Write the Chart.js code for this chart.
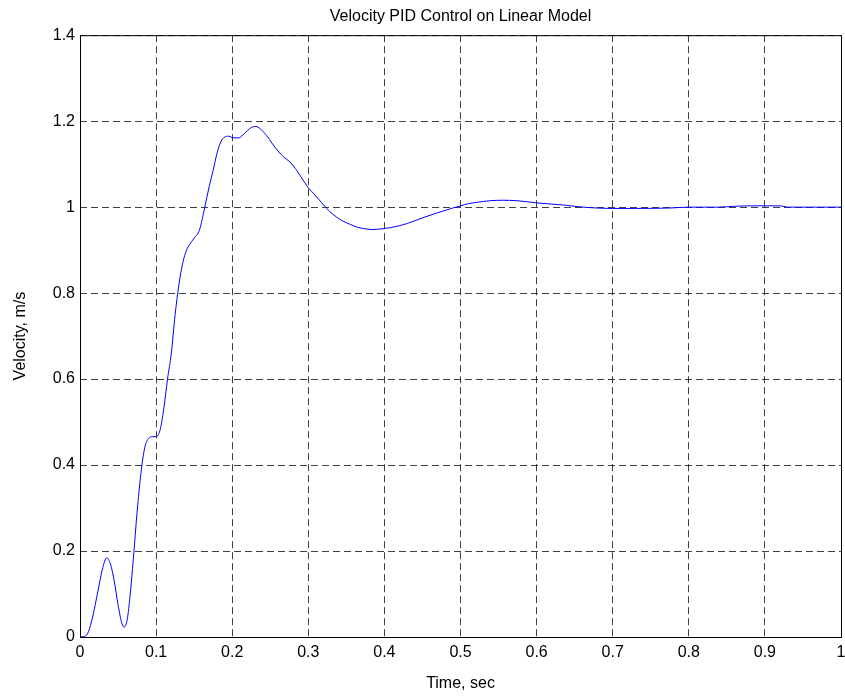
<!DOCTYPE html>
<html>
<head>
<meta charset="utf-8">
<title>Velocity PID Control on Linear Model</title>
<script src="https://cdn.jsdelivr.net/npm/chart.js@4"></script>
<style>
  html, body { margin: 0; padding: 0; background: #fff; }
  #wrap { width: 845px; height: 697px; }
</style>
</head>
<body>
<div id="wrap"><canvas id="pidChart" width="845" height="697"></canvas></div>
<script>
// step response samples (time in sec, velocity in m/s)
const timeS = [
  0, 0.005, 0.01, 0.015, 0.02, 0.025, 0.03, 0.035, 0.04, 0.045,
  0.05, 0.055, 0.058, 0.062, 0.066, 0.07, 0.075, 0.08, 0.085, 0.09,
  0.095, 0.1, 0.105, 0.11, 0.115, 0.12, 0.125, 0.13, 0.135, 0.14,
  0.144, 0.15, 0.157, 0.164, 0.17, 0.175, 0.18, 0.185, 0.19, 0.195,
  0.2, 0.205, 0.21, 0.215, 0.22, 0.225, 0.231, 0.237, 0.245, 0.253,
  0.261, 0.268, 0.276, 0.283, 0.289, 0.295, 0.3, 0.309, 0.32, 0.328,
  0.337, 0.345, 0.355, 0.365, 0.377, 0.385, 0.394, 0.407, 0.418, 0.43,
  0.45, 0.47, 0.49, 0.5, 0.51, 0.521, 0.539, 0.555, 0.574, 0.6,
  0.62, 0.635, 0.655, 0.679, 0.7, 0.73, 0.775, 0.8, 0.84, 0.86,
  0.88, 0.92, 0.93, 1.0
];
const velocity = [
  0, 0.001, 0.008, 0.035, 0.075, 0.12, 0.162, 0.184, 0.17, 0.13,
  0.075, 0.032, 0.023, 0.04, 0.1, 0.18, 0.29, 0.38, 0.44, 0.462,
  0.466, 0.466, 0.48, 0.53, 0.6, 0.66, 0.75, 0.82, 0.87, 0.9,
  0.913, 0.928, 0.947, 1.0, 1.05, 1.086, 1.125, 1.152, 1.163, 1.165,
  1.162, 1.161, 1.162, 1.17, 1.178, 1.185, 1.188, 1.182, 1.167, 1.147,
  1.129, 1.116, 1.105, 1.09, 1.074, 1.058, 1.045, 1.028, 1.005, 0.99,
  0.977, 0.968, 0.96, 0.953, 0.949, 0.948, 0.949, 0.952, 0.956, 0.962,
  0.975, 0.987, 0.998, 1.003, 1.008, 1.011, 1.015, 1.016, 1.015, 1.01,
  1.007, 1.005, 1.001, 0.998, 0.997, 0.997, 0.998, 1.0, 1.0, 1.002,
  1.003, 1.003, 1.0, 1.0
];
const xTickValues = [0, 0.1, 0.2, 0.3, 0.4, 0.5, 0.6, 0.7, 0.8, 0.9, 1];
const yTickValues = [0, 0.2, 0.4, 0.6, 0.8, 1, 1.2, 1.4];

Chart.defaults.font.family = "'Liberation Sans', Arial, Helvetica, sans-serif";
Chart.defaults.font.size = 16;
Chart.defaults.color = "#000";

// solid box around the plot area, like a matlab axes
// (offset by half a pixel so it sits on the outer grid lines)
const axesBox = {
  id: "axesBox",
  afterDraw(chart) {
    const { ctx, chartArea: a } = chart;
    ctx.save();
    ctx.strokeStyle = "#000";
    ctx.lineWidth = 1;
    ctx.strokeRect(a.left + 0.5, a.top + 0.5, a.right - a.left, a.bottom - a.top);
    ctx.restore();
  }
};

const gridStyle = {
  color: "rgba(0,0,0,0.75)",
  lineWidth: 1,
  drawTicks: false
};
const gridBorder = { display: false, dash: [7, 4] };

new Chart(document.getElementById("pidChart"), {
  type: "line",
  data: {
    datasets: [{
      label: "Velocity",
      data: timeS.map((t, i) => ({ x: t, y: velocity[i] })),
      borderColor: "#0000ff",
      borderWidth: 1,
      pointRadius: 0,
      cubicInterpolationMode: "monotone",
      fill: false
    }]
  },
  options: {
    responsive: false,
    animation: false,
    layout: { padding: { left: 0, right: 4, top: 0, bottom: 0 } },
    plugins: {
      legend: { display: false },
      tooltip: { enabled: false },
      title: {
        display: true,
        text: "Velocity PID Control on Linear Model",
        fullSize: false,
        font: { size: 16, weight: "normal", lineHeight: 1.2 },
        padding: { top: 7, bottom: 9 }
      }
    },
    scales: {
      x: {
        type: "linear",
        min: 0,
        max: 1,
        grid: { ...gridStyle },
        border: gridBorder,
        afterBuildTicks: (scale) => { scale.ticks = xTickValues.map(v => ({ value: v })); },
        afterFit: (scale) => {
          scale.height = 60;
          // let the end labels hang past the plot edges
          scale.paddingLeft = 0;
          scale.paddingRight = 0;
        },
        ticks: { padding: 6, maxRotation: 0, callback: (v) => String(v) },
        title: {
          display: true,
          text: "Time, sec",
          font: { size: 16 },
          padding: { top: 0, bottom: 4 }
        }
      },
      y: {
        type: "linear",
        min: 0,
        max: 1.4,
        grid: { ...gridStyle },
        border: gridBorder,
        afterBuildTicks: (scale) => { scale.ticks = yTickValues.map(v => ({ value: v })); },
        afterFit: (scale) => {
          scale.width = 80;
          scale.paddingTop = 0;
          scale.paddingBottom = 0;
        },
        ticks: { padding: 5, callback: (v) => String(v) },
        title: {
          display: true,
          text: "Velocity, m/s",
          font: { size: 16 },
          padding: { top: 11, bottom: 0 }
        }
      }
    }
  },
  plugins: [axesBox]
});
</script>
</body>
</html>
